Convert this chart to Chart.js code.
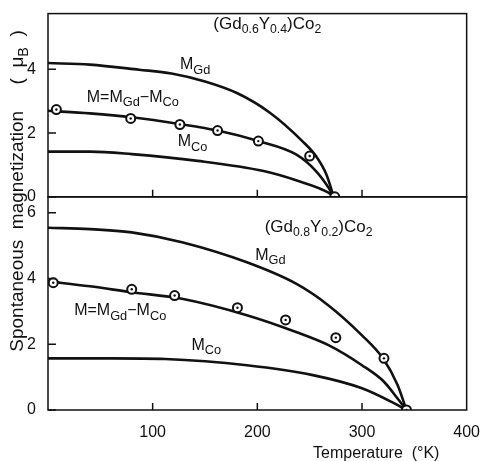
<!DOCTYPE html>
<html>
<head>
<meta charset="utf-8">
<script src="https://cdn.jsdelivr.net/npm/chart.js@4.4.1/dist/chart.umd.min.js"></script>
<style>
  body { margin: 0; background: #fff; }
  canvas { display: block; }
</style>
</head>
<body>
<canvas id="magChart" width="485" height="461"></canvas>
<script>
// (Gd0.6Y0.4)Co2 - upper panel
const tUpGd = [0, 40, 87, 118, 150, 181, 212, 243, 256, 266, 273];
const mUpGd = [4.2, 4.15, 3.99, 3.87, 3.62, 3.25, 2.64, 1.75, 1.28, 0.7, 0];
const tUpM = [0, 40, 80, 127, 162, 201, 237, 256, 268, 273];
const mUpM = [2.70, 2.62, 2.50, 2.28, 2.08, 1.75, 1.33, 0.81, 0.29, 0];
const tUpCo = [0, 40, 80, 143, 206, 237, 268, 273];
const mUpCo = [1.42, 1.42, 1.34, 1.13, 0.81, 0.52, 0.13, 0];
const tUpPts = [8, 79, 126, 162, 201, 250, 274];
const mUpPts = [2.74, 2.46, 2.27, 2.08, 1.75, 1.28, 0];

// (Gd0.8Y0.2)Co2 - lower panel
const tLoGd = [0, 40, 80, 128, 190, 237, 268, 300, 320, 334, 342.5];
const mLoGd = [5.54, 5.50, 5.40, 5.10, 4.49, 3.84, 3.18, 2.27, 1.57, 0.76, 0];
const tLoM = [0, 40, 80, 128, 190, 237, 268, 300, 321, 334, 342.5];
const mLoM = [3.91, 3.76, 3.58, 3.38, 2.88, 2.37, 1.97, 1.36, 0.86, 0.35, 0];
const tLoCo = [0, 60, 112, 190, 253, 300, 331, 342.5];
const mLoCo = [1.57, 1.57, 1.55, 1.36, 1.06, 0.66, 0.2, 0];
const tLoPts = [5, 80, 121, 181, 227, 275, 321, 342.5];
const mLoPts = [3.87, 3.67, 3.48, 3.11, 2.74, 2.20, 1.57, 0];

// Axis ticks
const xTicks = [100, 200, 300, 400];
const yUpTicks = [0, 2, 4];
const yLoTicks = [0, 2, 4, 6];

const INK = '#111';
const FONT = '"Liberation Sans", Arial, sans-serif';
const NARROW = '"Liberation Sans Narrow", "Liberation Sans", sans-serif';

function pts(xs, ys) {
    return xs.map((x, i) => ({ x: x, y: ys[i] }));
}

function curve(xs, ys, axis) {
    return {
        data: pts(xs, ys),
        yAxisID: axis,
        borderColor: INK,
        borderWidth: 2.6,
        pointRadius: 0,
        cubicInterpolationMode: 'monotone',
        fill: false
    };
}

function circles(xs, ys, axis) {
    return [{
        data: pts(xs, ys),
        yAxisID: axis,
        order: -1,
        showLine: false,
        pointRadius: 4.5,
        pointBorderWidth: 2,
        pointBorderColor: INK,
        pointBackgroundColor: '#fff'
    }, {
        data: pts(xs, ys),
        yAxisID: axis,
        order: -2,
        showLine: false,
        pointRadius: 1.2,
        pointBorderWidth: 0,
        pointBackgroundColor: INK
    }];
}

// text with subscripts: parts = [[text, isSub], ...]
function drawRich(ctx, x, y, parts, size, family, subScale) {
    let cx = x;
    parts.forEach(([txt, sub]) => {
        const s = sub ? size * subScale : size;
        ctx.font = s + 'px ' + family;
        ctx.fillText(txt, cx, sub ? y + size * 0.34 : y);
        cx += ctx.measureText(txt).width;
    });
}

function richWidth(ctx, parts, size, family, subScale) {
    let w = 0;
    parts.forEach(([txt, sub]) => {
        ctx.font = (sub ? size * subScale : size) + 'px ' + family;
        w += ctx.measureText(txt).width;
    });
    return w;
}

const notes = [
    { axis: 'yUp', x: 158, y: 5.42, size: 17, sub: 0.72, font: NARROW, parts: [['(Gd', 0], ['0.6', 1], ['Y', 0], ['0.4', 1], [')Co', 0], ['2', 1]] },
    { axis: 'yUp', x: 126, y: 4.14, size: 16, sub: 0.8, font: FONT, parts: [['M', 0], ['Gd', 1]] },
    { axis: 'yUp', x: 37, y: 3.12, size: 16, sub: 0.8, font: FONT, parts: [['M=M', 0], ['Gd', 1], ['\u2212M', 0], ['Co', 1]] },
    { axis: 'yUp', x: 124, y: 1.72, size: 16, sub: 0.8, font: FONT, parts: [['M', 0], ['Co', 1]] },
    { axis: 'yLo', x: 207, y: 5.56, size: 17, sub: 0.72, font: NARROW, parts: [['(Gd', 0], ['0.8', 1], ['Y', 0], ['0.2', 1], [')Co', 0], ['2', 1]] },
    { axis: 'yLo', x: 198, y: 4.70, size: 16, sub: 0.8, font: FONT, parts: [['M', 0], ['Gd', 1]] },
    { axis: 'yLo', x: 25, y: 3.02, size: 16, sub: 0.8, font: FONT, parts: [['M=M', 0], ['Gd', 1], ['\u2212M', 0], ['Co', 1]] },
    { axis: 'yLo', x: 137, y: 1.97, size: 16, sub: 0.8, font: FONT, parts: [['M', 0], ['Co', 1]] }
];

const framePlugin = {
    id: 'frame',
    afterDatasetsDraw(chart) {
        const ctx = chart.ctx;
        const area = chart.chartArea;
        const xs = chart.scales.x;
        ctx.save();
        ctx.strokeStyle = INK;
        ctx.fillStyle = INK;
        ctx.lineWidth = 1.5;
        ['yUp', 'yLo'].forEach(id => {
            const ys = chart.scales[id];
            ctx.strokeRect(area.left, ys.top, area.right - area.left, ys.bottom - ys.top);
            // inner ticks
            ctx.beginPath();
            xTicks.slice(0, 3).forEach(v => {
                const px = xs.getPixelForValue(v);
                ctx.moveTo(px, ys.bottom);
                ctx.lineTo(px, ys.bottom - 7);
            });
            ys.ticks.forEach(t => {
                const py = ys.getPixelForValue(t.value);
                ctx.moveTo(area.left, py);
                ctx.lineTo(area.left + 8, py);
            });
            ctx.stroke();
        });

        // annotations
        ctx.textBaseline = 'middle';
        ctx.textAlign = 'left';
        notes.forEach(n => {
            const ys = chart.scales[n.axis];
            drawRich(ctx, xs.getPixelForValue(n.x), ys.getPixelForValue(n.y), n.parts, n.size, n.font, n.sub);
        });

        // axis titles
        drawRich(ctx, 313, 454, [['Temperature  (\u00b0K)', 0]], 16, NARROW, 1);
        const yTitle = [['Spontaneous  magnetization     (  \u03bc', 0], ['B', 1], ['  )', 0]];
        ctx.translate(18, 191);
        ctx.rotate(-Math.PI / 2);
        drawRich(ctx, -richWidth(ctx, yTitle, 19, NARROW, 0.75) / 2, 0, yTitle, 19, NARROW, 0.75);
        ctx.restore();
    }
};

const tickFont = { family: NARROW, size: 16 };

new Chart(document.getElementById('magChart'), {
    type: 'line',
    data: {
        datasets: [
            curve(tUpGd, mUpGd, 'yUp'),
            curve(tUpM, mUpM, 'yUp'),
            curve(tUpCo, mUpCo, 'yUp'),
            ...circles(tUpPts, mUpPts, 'yUp'),
            curve(tLoGd, mLoGd, 'yLo'),
            curve(tLoM, mLoM, 'yLo'),
            curve(tLoCo, mLoCo, 'yLo'),
            ...circles(tLoPts, mLoPts, 'yLo')
        ]
    },
    options: {
        responsive: false,
        animation: false,
        devicePixelRatio: 1,
        layout: { padding: { top: 12, right: 12, left: 0, bottom: 0 } },
        plugins: { legend: { display: false }, tooltip: { enabled: false } },
        scales: {
            x: {
                type: 'linear',
                min: 0,
                max: 400,
                afterBuildTicks: s => { s.ticks = xTicks.map(v => ({ value: v })); },
                afterFit: s => { s.height = 51; },
                grid: { display: false },
                border: { display: false },
                ticks: { color: INK, font: tickFont, padding: 5, maxRotation: 0 }
            },
            yLo: {
                type: 'linear',
                position: 'left',
                stack: 'mag',
                stackWeight: 214,
                min: 0,
                max: 6.48,
                afterBuildTicks: s => { s.ticks = yLoTicks.map(v => ({ value: v })); },
                afterFit: s => { s.width = 48; },
                grid: { display: false },
                border: { display: false },
                ticks: { color: INK, font: tickFont, padding: 4 }
            },
            yUp: {
                type: 'linear',
                position: 'left',
                stack: 'mag',
                stackWeight: 184,
                min: 0,
                max: 5.75,
                afterBuildTicks: s => { s.ticks = yUpTicks.map(v => ({ value: v })); },
                afterFit: s => { s.width = 48; },
                grid: { display: false },
                border: { display: false },
                ticks: { color: INK, font: tickFont, padding: 4 }
            }
        }
    },
    plugins: [framePlugin]
});
</script>
</body>
</html>
